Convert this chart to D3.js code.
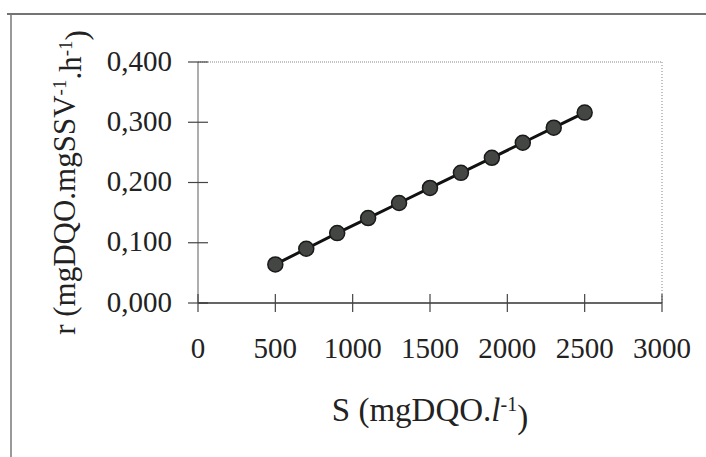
<!DOCTYPE html>
<html>
<head>
<meta charset="utf-8" />
<title></title>
<style>
  body { margin: 0; background: #fff; }
  text { font-family: "Liberation Serif", "Times New Roman", serif; fill: #222; }
</style>
</head>
<body>
<script src="https://d3js.org/d3.v7.min.js"></script>
<script>
// substrate concentration S (mgDQO/l) and rate r
var sValues = [500, 700, 900, 1100, 1300, 1500, 1700, 1900, 2100, 2300, 2500];
var rValues = [0.064, 0.090, 0.116, 0.141, 0.166, 0.191, 0.216, 0.241, 0.266, 0.291, 0.316];
var xTicks = [0, 500, 1000, 1500, 2000, 2500, 3000];
var yTicks = [0, 0.1, 0.2, 0.3, 0.4];

var width = 706, height = 457;
var pLeft = 198, pRight = 662, pTop = 62, pBottom = 303;

var svg = d3.select("body").append("svg")
    .attr("width", width)
    .attr("height", height);

// outer frame (scan edge)
svg.append("line").attr("x1", 7).attr("x2", width).attr("y1", 14).attr("y2", 14)
    .attr("stroke", "#444").attr("stroke-width", 1.5);
svg.append("line").attr("x1", 11).attr("x2", 11).attr("y1", 14).attr("y2", height)
    .attr("stroke", "#777").attr("stroke-width", 1.5);

var x = d3.scaleLinear().domain([0, 3000]).range([pLeft, pRight]);
var y = d3.scaleLinear().domain([0, 0.4]).range([pBottom, pTop]);

var locale = d3.formatLocale({decimal: ",", thousands: ".", grouping: [3], currency: ["", ""]});
var fmtY = locale.format(".3f");

// plot area border (dotted top and right)
svg.append("line").attr("x1", pLeft).attr("x2", pRight).attr("y1", pTop).attr("y2", pTop)
    .attr("stroke", "#888").attr("stroke-width", 1.2).attr("stroke-dasharray", "1,1");
svg.append("line").attr("x1", pRight).attr("x2", pRight).attr("y1", pTop).attr("y2", pBottom)
    .attr("stroke", "#999").attr("stroke-width", 1.2).attr("stroke-dasharray", "1,2");

// y axis: ticks cross the axis line
var yg = svg.append("g");
yg.append("line").attr("x1", pLeft).attr("x2", pLeft).attr("y1", pTop).attr("y2", pBottom)
    .attr("stroke", "#777").attr("stroke-width", 1.2);
yg.selectAll(".yt").data(yTicks).enter().append("line")
    .attr("x1", pLeft - 10).attr("x2", pLeft + 10)
    .attr("y1", function(d){ return y(d); }).attr("y2", function(d){ return y(d); })
    .attr("stroke", "#444").attr("stroke-width", 1.2);
yg.selectAll(".yl").data(yTicks).enter().append("text")
    .attr("x", pLeft - 26)
    .attr("y", function(d){ return y(d); })
    .attr("dy", "0.3em")
    .attr("text-anchor", "end")
    .style("font-size", "29px")
    .text(function(d){ return fmtY(d); });

// x axis
var xg = svg.append("g");
xg.append("line").attr("x1", pLeft).attr("x2", pRight).attr("y1", pBottom).attr("y2", pBottom)
    .attr("stroke", "#333").attr("stroke-width", 1.5);
xg.selectAll(".xt").data(xTicks).enter().append("line")
    .attr("x1", function(d){ return x(d); }).attr("x2", function(d){ return x(d); })
    .attr("y1", pBottom - 9).attr("y2", pBottom + 9)
    .attr("stroke", "#444").attr("stroke-width", 1.2);
xg.selectAll(".xl").data(xTicks).enter().append("text")
    .attr("x", function(d){ return x(d); })
    .attr("y", 358)
    .attr("text-anchor", "middle")
    .style("font-size", "29px")
    .text(function(d){ return d; });

// series
var pts = sValues.map(function(s, i){ return [s, rValues[i]]; });
var line = d3.line().x(function(d){ return x(d[0]); }).y(function(d){ return y(d[1]); });
svg.append("path").datum(pts)
    .attr("d", line)
    .attr("fill", "none")
    .attr("stroke", "#111")
    .attr("stroke-width", 3);
svg.selectAll(".dot").data(pts).enter().append("circle")
    .attr("cx", function(d){ return x(d[0]); })
    .attr("cy", function(d){ return y(d[1]); })
    .attr("r", 7.5)
    .attr("fill", "#434643")
    .attr("stroke", "#1a1a1a")
    .attr("stroke-width", 1.5);

// axis titles
var xt = svg.append("text")
    .attr("x", (pLeft + pRight) / 2)
    .attr("y", 421)
    .attr("text-anchor", "middle")
    .style("font-size", "33px");
xt.append("tspan").text("S (mgDQO.");
xt.append("tspan").style("font-style", "italic").text("l");
xt.append("tspan").attr("dy", "-0.5em").style("font-size", "20px").text("-1");
xt.append("tspan").attr("dy", "0.5em").text(")");

var yt = svg.append("text")
    .attr("transform", "translate(75," + ((pTop + pBottom) / 2) + ") rotate(-90)")
    .attr("text-anchor", "middle")
    .style("font-size", "31px");
yt.append("tspan").text("r (mgDQO.mgSSV");
yt.append("tspan").attr("dy", "-0.5em").style("font-size", "19px").text("-1");
yt.append("tspan").attr("dy", "0.5em").text(".h");
yt.append("tspan").attr("dy", "-0.5em").style("font-size", "19px").text("-1");
yt.append("tspan").attr("dy", "0.5em").text(")");
</script>
</body>
</html>
